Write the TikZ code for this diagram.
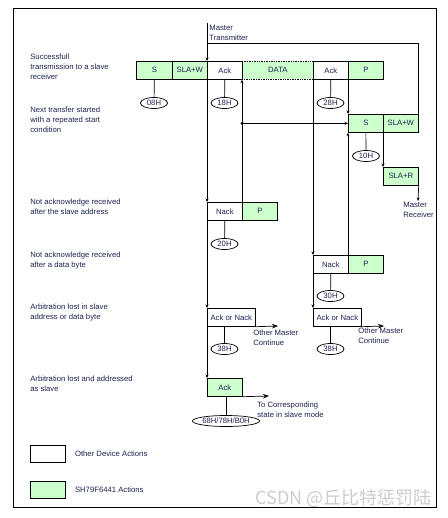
\documentclass[tikz,border=0pt]{standalone}
\usepackage{fontspec}
\setmainfont{Liberation Sans}
\newfontfamily\cjk{Noto Sans CJK SC}
\usepackage{xcolor}
\definecolor{actgreen}{HTML}{CCFFCC}
\definecolor{ink}{HTML}{1C2250}
\usetikzlibrary{arrows.meta, shapes.geometric, positioning, calc}

\begin{document}
\begin{tikzpicture}[x=1pt, y=-1pt, line width=0.7pt,
  >={Stealth[length=3.5pt, width=3pt]},
  font=\fontsize{7.7}{9.6}\selectfont, text=ink,
  box/.style={draw, minimum width=35pt, minimum height=18pt, inner sep=0pt, anchor=north west},
  grn/.style={box, fill=actgreen},
  tag/.style={draw, ellipse, minimum width=27pt, minimum height=11pt, inner sep=0pt},
  lbl/.style={anchor=north west, inner sep=0pt, align=left},
  bigarr/.style={-{Stealth[length=6pt, width=4.5pt]}}]

  \useasboundingbox (0,0) rectangle (447,518);
  \draw (13,8) rectangle (436,507);

  % left descriptions
  \node[lbl] (t1) at (30,54) {Successfull\\transmission to a slave\\receiver};
  \node[lbl] (t2) at (30,107) {Next transfer started\\with a repeated start\\condition};
  \node[lbl] (t3) at (30,199) {Not acknowledge received\\after the slave address};
  \node[lbl] (t4) at (30,252) {Not acknowledge received\\after a data byte};
  \node[lbl] (t5) at (30,304) {Arbitration lost in slave\\address or data byte};
  \node[lbl] (t6) at (30,376) {Arbitration lost and addressed\\as slave};

  % first transfer
  \node[grn, minimum width=71pt, densely dotted] (data) at (242,61) {DATA};
  \node[grn, minimum width=36pt] (s1) at (136,61) {S};
  \node[grn] (sw1) at (172,61) {SLA+W};
  \node[box] (ack1) at (207,61) {Ack};
  \node[box] (ack2) at (313,61) {Ack};
  \node[grn] (p1) at (348,61) {P};

  \node[tag] (o08) at (154,103) {08H};
  \node[tag] (o18) at (224.5,103) {18H};
  \node[tag] (o28) at (330.5,103) {28H};
  \draw (s1.south) -- (o08);
  \draw (ack1.south) -- (o18);
  \draw (ack2.south) -- (o28);

  % master transmitter entry
  \coordinate (mtop) at (207,23);
  \coordinate (mbr) at (207,43);
  \node[lbl] (mt) at (209,25) {Master\\Transmitter};
  \draw[->] (mtop) -- (ack1.north west);
  \draw (mbr) -| (418,114);

  % repeated start
  \node[grn] (s2) at (348,114) {S};
  \node[grn] (sw2) at (383,114) {SLA+W};
  \node[grn] (slar) at (383,167) {SLA+R};
  \node[tag] (o10) at (366,156) {10H};
  \draw (s2.south) -- (o10);
  \draw[->] (p1.south west) -- (s2.north west);
  \coordinate (rs) at (data.south west |- s2.west);
  \fill (rs) circle (1.6pt);
  \draw[->] (rs) -- (s2.west);
  \draw[->] (sw2.south west) -- (slar.north west);
  \coordinate (mrx) at (418,201);
  \draw[->] (slar.south east) -- (mrx);
  \node[lbl] (mr) at (403,202) {Master\\Receiver};

  % not acknowledge after address
  \node[box] (nack1) at (207,202) {Nack};
  \node[grn] (p2) at (242,202) {P};
  \node[tag] (o20) at (224.5,244) {20H};
  \draw (nack1.south) -- (o20);
  \draw[->] (ack1.south west) -- (nack1.north west);
  \draw[->] (p2.north west) -- (data.south west);

  % not acknowledge after data
  \node[box] (nack2) at (313,255) {Nack};
  \node[grn] (p3) at (348,255) {P};
  \node[tag] (o30) at (330.5,296) {30H};
  \draw (nack2.south) -- (o30);
  \draw[->] (ack2.south west) -- (nack2.north west);
  \draw[->] (p3.north west) -- (s2.south west);

  % arbitration lost
  \node[box, minimum width=48pt] (an1) at (207,308) {Ack or Nack};
  \node[box, minimum width=48pt] (an2) at (313,308) {Ack or Nack};
  \node[tag] (o38a) at (224.5,349) {38H};
  \node[tag] (o38b) at (330.5,349) {38H};
  \draw (an1.south -| o38a) -- (o38a);
  \draw (an2.south -| o38b) -- (o38b);
  \draw[->] (nack1.south west) -- (an1.north west);
  \draw[->] (nack2.south west) -- (an2.north west);
  \coordinate (om1) at (278,326);
  \coordinate (om2) at (384,326);
  \draw[bigarr] (an1.south east) -- (om1);
  \draw[bigarr] (an2.south east) -- (om2);
  \node[lbl] (c1) at (253,330) {Other Master\\Continue};
  \node[lbl] (c2) at (358,328) {Other Master\\Continue};

  % addressed as slave
  \node[grn] (acks) at (207,378) {Ack};
  \node[tag, minimum width=53pt] (o68) at (226,421) {68H/78H/B0H};
  \draw (acks.south -| o68) -- (o68);
  \draw[->] (an1.south west) -- (acks.north west);
  \coordinate (slv) at (269,396);
  \draw[bigarr] (acks.south east) -- (slv);
  \node[lbl] (tc) at (257,402) {To Corresponding\\state in slave mode};

  % legend
  \node[box, minimum height=17pt] (lgo) at (30,445) {};
  \node[grn, minimum height=17pt] (lgg) at (30,481) {};
  \node[right=9pt of lgo, inner sep=0pt] (lgot) {Other Device Actions};
  \node[right=9pt of lgg, inner sep=0pt] (lggt) {SH79F6441 Actions};

  \node[anchor=east, inner sep=0pt, text=gray!40, font=\cjk\fontsize{18}{18}\selectfont] (wm) at (432,498) {CSDN @丘比特惩罚陆};
\end{tikzpicture}
\end{document}
